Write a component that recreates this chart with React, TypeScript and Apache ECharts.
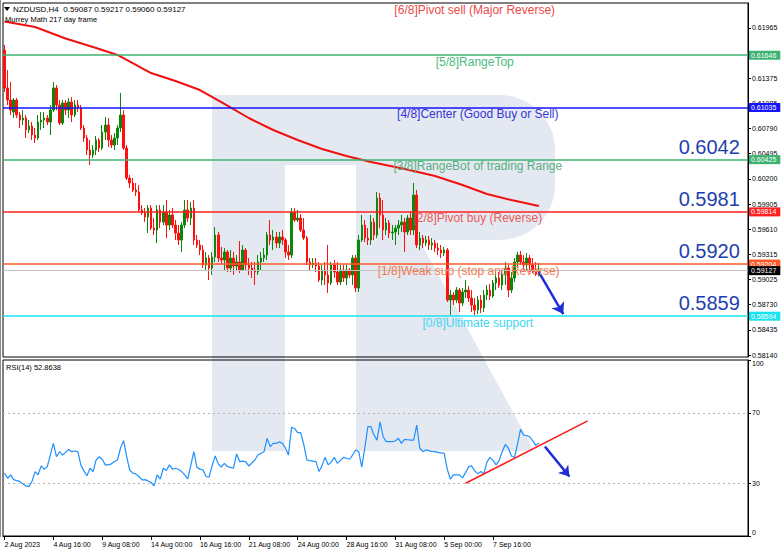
import React, { useEffect, useRef } from "react";
import * as echarts from "echarts";

// [open, close, low, high] per H4 bar
const candles: number[][] = [
  [0.61707, 0.61263, 0.61216, 0.61766], [0.61263, 0.61122, 0.61064, 0.61473], [0.61122, 0.61005, 0.60947, 0.61333], [0.60982, 0.61122, 0.60912, 0.61146],
  [0.61122, 0.60947, 0.60912, 0.61146], [0.60947, 0.60888, 0.60795, 0.60982], [0.60888, 0.60912, 0.6083, 0.61005], [0.60912, 0.60772, 0.60678, 0.60947],
  [0.60772, 0.60818, 0.60736, 0.60888], [0.60818, 0.60713, 0.60655, 0.60865], [0.60713, 0.60678, 0.60619, 0.60795], [0.60678, 0.60865, 0.60655, 0.60947],
  [0.60865, 0.60888, 0.60772, 0.60982], [0.60888, 0.60912, 0.60795, 0.60982], [0.60912, 0.60865, 0.6083, 0.60947], [0.60865, 0.61005, 0.60713, 0.61064],
  [0.61005, 0.61263, 0.60982, 0.61333], [0.61263, 0.61064, 0.61005, 0.61298], [0.61064, 0.60853, 0.6083, 0.61122], [0.60853, 0.61087, 0.6083, 0.61122],
  [0.61087, 0.61005, 0.60947, 0.61122], [0.61005, 0.61099, 0.60912, 0.61146], [0.61099, 0.60947, 0.60865, 0.61157], [0.60947, 0.61064, 0.60924, 0.61122],
  [0.61064, 0.61029, 0.60982, 0.61122], [0.61029, 0.60795, 0.60772, 0.61064], [0.60795, 0.60678, 0.60631, 0.6083], [0.60678, 0.60538, 0.60479, 0.60713],
  [0.60538, 0.60479, 0.60362, 0.60655], [0.60479, 0.60538, 0.60444, 0.60596], [0.60538, 0.60655, 0.60479, 0.60701], [0.60655, 0.60561, 0.60514, 0.60678],
  [0.60561, 0.60748, 0.60538, 0.6083], [0.60748, 0.6083, 0.60655, 0.60924], [0.6083, 0.60655, 0.60573, 0.60912], [0.60655, 0.60596, 0.60561, 0.60713],
  [0.60596, 0.60678, 0.60538, 0.60736], [0.60678, 0.60795, 0.60596, 0.6083], [0.60795, 0.60947, 0.60748, 0.61204], [0.60947, 0.60561, 0.60538, 0.61005],
  [0.60561, 0.6021, 0.60187, 0.60596], [0.6021, 0.60152, 0.60093, 0.60245], [0.60152, 0.6007, 0.60046, 0.6021], [0.6007, 0.60046, 0.6, 0.60152],
  [0.60046, 0.59836, 0.59812, 0.60128], [0.59836, 0.59801, 0.59778, 0.59894], [0.59801, 0.59754, 0.59695, 0.59859], [0.59754, 0.59859, 0.59567, 0.59894],
  [0.59859, 0.59625, 0.59602, 0.59894], [0.59625, 0.59602, 0.59544, 0.59742], [0.59602, 0.59836, 0.5945, 0.59894], [0.59836, 0.59695, 0.59625, 0.59894],
  [0.59695, 0.59812, 0.5966, 0.59894], [0.59812, 0.5966, 0.59508, 0.59953], [0.5966, 0.59778, 0.59602, 0.59836], [0.59778, 0.5966, 0.59625, 0.59859],
  [0.5966, 0.59567, 0.59485, 0.59719], [0.59567, 0.59485, 0.59427, 0.5966], [0.59485, 0.5966, 0.59345, 0.59695], [0.5966, 0.59836, 0.59625, 0.59953],
  [0.59836, 0.59742, 0.59695, 0.59953], [0.59742, 0.59859, 0.5966, 0.59929], [0.59859, 0.59485, 0.59427, 0.59953], [0.59485, 0.59427, 0.59391, 0.59544],
  [0.59427, 0.59368, 0.59309, 0.59485], [0.59368, 0.59193, 0.59157, 0.59427], [0.59193, 0.59274, 0.59134, 0.59345], [0.59274, 0.59157, 0.59017, 0.59309],
  [0.59157, 0.59286, 0.59076, 0.59345], [0.59286, 0.59544, 0.59228, 0.59637], [0.59544, 0.59274, 0.59228, 0.59579], [0.59274, 0.59251, 0.59193, 0.59403],
  [0.59251, 0.59345, 0.59134, 0.59391], [0.59345, 0.59157, 0.59111, 0.59368], [0.59157, 0.59274, 0.59111, 0.59368], [0.59274, 0.59181, 0.59076, 0.59345],
  [0.59181, 0.59228, 0.59134, 0.59309], [0.59228, 0.59134, 0.59099, 0.59473], [0.59134, 0.59368, 0.59134, 0.59427], [0.59368, 0.59193, 0.59134, 0.59391],
  [0.59193, 0.59157, 0.59076, 0.59274], [0.59157, 0.59134, 0.59041, 0.59228], [0.59134, 0.59111, 0.58958, 0.59228], [0.59111, 0.59228, 0.59076, 0.59309],
  [0.59228, 0.59274, 0.59134, 0.59345], [0.59274, 0.59309, 0.59228, 0.59391], [0.59309, 0.59544, 0.59251, 0.59579], [0.59544, 0.59485, 0.59427, 0.59719],
  [0.59485, 0.5952, 0.59368, 0.59602], [0.5952, 0.5945, 0.59391, 0.59579], [0.5945, 0.5952, 0.59391, 0.59579], [0.5952, 0.59485, 0.59427, 0.59602],
  [0.59485, 0.59345, 0.59274, 0.59508], [0.59345, 0.59309, 0.59251, 0.59427], [0.59309, 0.59812, 0.59274, 0.59859], [0.59812, 0.59719, 0.59695, 0.59859],
  [0.59719, 0.59742, 0.59695, 0.59836], [0.59742, 0.59602, 0.59579, 0.59789], [0.59602, 0.59508, 0.59485, 0.59742], [0.59508, 0.59228, 0.59193, 0.59532],
  [0.59228, 0.59193, 0.59134, 0.59274], [0.59193, 0.59216, 0.59157, 0.59274], [0.59216, 0.59181, 0.59111, 0.59274], [0.59181, 0.59017, 0.58994, 0.59228],
  [0.59017, 0.59134, 0.58958, 0.59193], [0.59134, 0.59076, 0.58958, 0.59228], [0.59076, 0.58982, 0.58865, 0.59427], [0.58982, 0.59193, 0.58958, 0.59228],
  [0.59193, 0.59111, 0.59041, 0.59251], [0.59111, 0.58994, 0.58958, 0.59228], [0.58994, 0.59134, 0.58958, 0.59193], [0.59134, 0.59041, 0.58994, 0.59193],
  [0.59041, 0.59134, 0.58958, 0.59193], [0.59134, 0.59076, 0.59041, 0.59157], [0.59076, 0.59274, 0.58958, 0.59309], [0.59274, 0.58924, 0.58877, 0.59309],
  [0.58924, 0.59485, 0.58877, 0.59544], [0.59485, 0.5966, 0.59462, 0.59778], [0.5966, 0.59508, 0.59462, 0.59719], [0.59508, 0.59485, 0.59427, 0.59625],
  [0.59485, 0.59695, 0.59427, 0.59778], [0.59695, 0.59544, 0.59485, 0.59742], [0.59544, 0.59976, 0.59508, 0.60046], [0.59976, 0.59778, 0.59625, 0.60035],
  [0.59778, 0.59602, 0.59485, 0.59953], [0.59602, 0.59684, 0.59544, 0.59742], [0.59684, 0.59567, 0.59508, 0.59719], [0.59567, 0.59579, 0.59485, 0.5966],
  [0.59579, 0.59625, 0.59427, 0.5966], [0.59625, 0.5966, 0.59544, 0.59719], [0.5966, 0.59695, 0.59579, 0.59778], [0.59695, 0.59579, 0.59345, 0.59742],
  [0.59579, 0.59742, 0.59544, 0.59778], [0.59742, 0.59602, 0.59544, 0.59812], [0.59602, 0.60011, 0.59544, 0.60152], [0.60011, 0.59427, 0.59391, 0.6007],
  [0.59427, 0.59508, 0.59368, 0.59579], [0.59508, 0.5945, 0.59391, 0.59544], [0.5945, 0.59485, 0.59415, 0.59532], [0.59485, 0.59427, 0.59368, 0.59532],
  [0.59427, 0.5945, 0.59368, 0.59508], [0.5945, 0.59391, 0.59345, 0.59485], [0.59391, 0.59368, 0.59309, 0.5945], [0.59368, 0.59333, 0.59274, 0.59427],
  [0.59333, 0.59368, 0.59298, 0.59403], [0.59368, 0.58783, 0.5876, 0.59391], [0.58783, 0.58842, 0.58608, 0.589], [0.58842, 0.58783, 0.58725, 0.58877],
  [0.58783, 0.589, 0.58748, 0.58935], [0.589, 0.58748, 0.58643, 0.58924], [0.58748, 0.58877, 0.58713, 0.58924], [0.58877, 0.589, 0.58807, 0.59017],
  [0.589, 0.58807, 0.5876, 0.58947], [0.58807, 0.58725, 0.58643, 0.589], [0.58725, 0.58666, 0.58608, 0.58807], [0.58666, 0.58783, 0.58619, 0.5883],
  [0.58783, 0.5869, 0.58631, 0.58842], [0.5869, 0.58842, 0.58643, 0.589], [0.58842, 0.589, 0.58783, 0.58958], [0.589, 0.5883, 0.58783, 0.5897],
  [0.5883, 0.58982, 0.58807, 0.59017], [0.58982, 0.59041, 0.589, 0.59111], [0.59041, 0.58958, 0.58924, 0.59111], [0.58958, 0.59076, 0.589, 0.59134],
  [0.59076, 0.59157, 0.58958, 0.59228], [0.59157, 0.589, 0.58818, 0.59193], [0.589, 0.59041, 0.58865, 0.59111], [0.59041, 0.59228, 0.58994, 0.59274],
  [0.59228, 0.59309, 0.59157, 0.59345], [0.59309, 0.59228, 0.59193, 0.59356], [0.59228, 0.59193, 0.59134, 0.59309], [0.59193, 0.59274, 0.59134, 0.59333],
  [0.59274, 0.59193, 0.59111, 0.59309], [0.59193, 0.59134, 0.59099, 0.59274], [0.59134, 0.59087, 0.59064, 0.59228], [0.59087, 0.59127, 0.5906, 0.59217],
];

// Moving average 217 (sampled) : [bar index, value]
const maPoints: number[][] = [
  [0, 0.62041], [10, 0.61976], [20, 0.61842], [30, 0.61731], [37, 0.61649], [48, 0.61438], [56, 0.61345], [64, 0.61239],
  [72, 0.61076], [80, 0.60912], [88, 0.60772], [96, 0.60655], [104, 0.60549], [112, 0.60467], [120, 0.60397], [128, 0.60339],
  [134, 0.60292], [141, 0.60233], [150, 0.60128], [158, 0.60023], [166, 0.59953], [175, 0.59883],
];

const rsiValues: number[] = [
  35.7, 32.8, 34.7, 32, 31.5, 31, 29.5, 28.5, 28.1, 31,
  36.6, 34.7, 39.8, 37.9, 39.4, 46, 52.6, 45.1, 47.9, 46,
  47.5, 49.2, 47.9, 48.3, 47.9, 40.4, 37, 34.2, 38.5, 36.6,
  43.2, 45, 43.6, 40.4, 40.4, 41, 42.3, 43.2, 50, 54.2,
  45.1, 37.5, 35.7, 35.3, 33.8, 31.9, 32, 31.3, 30.4, 28.5,
  34.7, 32.3, 38.5, 37.2, 40.4, 37.9, 38.5, 37.8, 36.6, 34.7,
  32.5, 40, 47.9, 39.1, 38, 37.5, 33.8, 33.4, 40, 45.5,
  41, 39.1, 41.3, 39.5, 39, 38.5, 46.6, 42.3, 42.5, 42.3,
  39.8, 41.5, 43.2, 46, 47, 47.9, 55.5, 50.8, 52.6, 52.6,
  53.6, 52.6, 50, 46, 61.7, 61.1, 58.7, 58.7, 52, 43.2,
  42.8, 42.5, 42.3, 36.6, 40, 44.7, 40.4, 42, 44.7, 41.3,
  43, 44.7, 44.2, 43.6, 46, 48.9, 47.9, 39.1, 50, 62.1,
  62.1, 57.4, 54.5, 64.9, 56.4, 53.6, 53.6, 53.6, 54, 55.5,
  52.6, 54.9, 54.7, 54.5, 54.5, 63, 50, 47.9, 48.9, 48.5,
  48, 47.9, 47.5, 47.2, 47, 38, 32.3, 34.7, 34.7, 34.7,
  33, 36, 39.4, 39.8, 37, 35.3, 36.6, 35.3, 42, 44.7,
  43, 40.4, 43, 47.9, 52, 50, 45.5, 44.7, 52, 60.6,
  57.4, 57, 56.4, 54, 51.5, 52.86,
];

const levelValues = [0.62256, 0.61646, 0.61035, 0.60425, 0.59814, 0.59204, 0.58594];
const levelNames = [
  "[6/8]Pivot sell (Major Reverse)",
  "[5/8]RangeTop",
  "[4/8]Center (Good Buy or Sell)",
  "[3/8]RangeBot of trading Range",
  "[2/8]Pivot buy (Reverse)",
  "[1/8]Weak sup (stop and Reverse)",
  "[0/8]Ultimate support",
];
const levelColors = ["#ff2020", "#3cb371", "#1414ff", "#3cb371", "#ff2020", "#ff5a28", "#19e3ef"];
const levelTextColors = ["#f04848", "#4cbb7f", "#3434d8", "#5aae80", "#ec5a5a", "#f27a50", "#3fd6f0"];
const bigLevelTexts = ["0.6042", "0.5981", "0.5920", "0.5859"];
const bigLevelValues = [0.60425, 0.59814, 0.59204, 0.58594];
const lastPrice = 0.59127;

const priceTicks = [0.61965, 0.61375, 0.61085, 0.6079, 0.60495, 0.602, 0.59905, 0.5961, 0.59315, 0.59025, 0.5873, 0.58435, 0.5814];
const rsiTicks = [0, 30, 70, 100];
const timeLabelBars = [0, 16, 32, 48, 64, 80, 96, 112, 128, 144, 160];
const timeLabels = [
  "2 Aug 2023", "4 Aug 16:00", "9 Aug 08:00", "14 Aug 00:00", "16 Aug 16:00", "21 Aug 08:00",
  "24 Aug 00:00", "28 Aug 16:00", "31 Aug 08:00", "5 Sep 00:00", "7 Sep 16:00",
];
const rsiTrendLine = [[151, 30], [191, 65.4]];
const rsiArrow = [[177, 50.8], [185, 33.8]];
const priceArrow = [[175, 0.59111], [183, 0.58619]];

const SLOTS = 244;
const FONT = '"Liberation Sans", Arial, sans-serif';

export default function App() {
  const ref = useRef<HTMLDivElement>(null);
  useEffect(() => {
    if (!ref.current) return;
    const chart = echarts.init(ref.current, null, { renderer: "svg" });
    const slots = Array.from({ length: SLOTS }, (_, i) => String(i));
    const labelMap: Record<number, string> = {};
    timeLabelBars.forEach((b, k) => (labelMap[b] = timeLabels[k]));
    const isLabelBar = (i: number) => labelMap[i] !== undefined;
    const logo = "#e4e9f1";
    const blue = "#1f2fd6";

    const levelLines: any[] = levelValues.slice(1).map((v, k) => ({
      yAxis: v,
      lineStyle: { color: levelColors[k + 1], width: 1.6, type: "solid" },
      label: {
        show: true, position: "end", distance: 1, formatter: v.toFixed(5),
        backgroundColor: levelColors[k + 1], color: "#fff", fontSize: 7, padding: [1, 4, 1, 2], fontFamily: FONT,
      },
    }));
    levelLines.push({
      yAxis: lastPrice,
      lineStyle: { color: "#c4c4c4", width: 1, type: "solid" },
      label: {
        show: true, position: "end", distance: 1, formatter: lastPrice.toFixed(5),
        backgroundColor: "#000", color: "#fff", fontSize: 7, padding: [1, 4, 1, 2], fontFamily: FONT,
      },
    });
    levelLines.push([
      { coord: priceArrow[0], symbol: "none", lineStyle: { color: blue, width: 2.5, type: "solid" }, label: { show: false } },
      { coord: priceArrow[1], symbol: "arrow", symbolSize: 11, lineStyle: { color: blue, width: 2.5, type: "solid" }, label: { show: false } },
    ]);

    const labelBar = [154, 154, 155, 155, 155, 152, 155];
    const markPoints: any[] = levelValues.map((v, k) => ({
      coord: [labelBar[k], v], symbol: "rect", symbolSize: 1, itemStyle: { color: "rgba(0,0,0,0)" },
      label: { show: true, position: "bottom", distance: 0, formatter: levelNames[k], color: levelTextColors[k], fontSize: 12, fontFamily: FONT },
    }));
    bigLevelValues.forEach((v, k) => {
      markPoints.push({
        coord: [241, v], symbol: "rect", symbolSize: 1, itemStyle: { color: "rgba(0,0,0,0)" },
        label: { show: true, position: "left", distance: 0, offset: [0, -13], formatter: bigLevelTexts[k], color: "#1e3fae", fontSize: 20, fontFamily: FONT },
      });
    });

    const option: any = {
      animation: false,
      textStyle: { fontFamily: FONT },
      grid: [
        { left: 3, right: 34, top: 3, height: 354, show: true, borderColor: "#000", borderWidth: 1, backgroundColor: "transparent" },
        { left: 3, right: 34, top: 360, height: 176, show: true, borderColor: "#000", borderWidth: 1, backgroundColor: "transparent" },
      ],
      xAxis: [
        { type: "category", gridIndex: 0, data: slots, boundaryGap: true, axisLine: { show: false }, axisTick: { show: false }, axisLabel: { show: false }, splitLine: { show: false } },
        {
          type: "category", gridIndex: 1, data: slots, boundaryGap: true,
          axisLine: { show: true, lineStyle: { color: "#000" } },
          axisTick: { show: true, alignWithLabel: true, interval: (i: number) => isLabelBar(i), length: 4, lineStyle: { color: "#000" } },
          axisLabel: {
            show: true, interval: (i: number) => isLabelBar(i), formatter: (_v: string, i: number) => labelMap[i] ?? "",
            align: "left", fontSize: 7, color: "#000", margin: 5, fontFamily: FONT,
          },
          splitLine: { show: false },
        },
      ],
      yAxis: [
        {
          type: "value", gridIndex: 0, position: "right", min: 0.58117, max: 0.62257, scale: true,
          splitLine: { show: false },
          axisLine: { show: true, lineStyle: { color: "#000" } },
          axisTick: { show: true, customValues: priceTicks, length: 3, lineStyle: { color: "#000" } },
          axisLabel: { show: true, customValues: priceTicks, formatter: (v: number) => v.toFixed(5), fontSize: 7, color: "#000", margin: 4, fontFamily: FONT },
        },
        {
          type: "value", gridIndex: 1, position: "right", min: 0, max: 100,
          splitLine: { show: false },
          axisLine: { show: true, lineStyle: { color: "#000" } },
          axisTick: { show: true, customValues: rsiTicks, length: 3, lineStyle: { color: "#000" } },
          axisLabel: {
            show: true, customValues: rsiTicks, formatter: (v: number) => String(v), fontSize: 7, color: "#000", margin: 4, fontFamily: FONT,
            verticalAlignMaxLabel: "top", verticalAlignMinLabel: "bottom",
          },
        },
      ],
      series: [
        {
          type: "candlestick", name: "NZDUSD", xAxisIndex: 0, yAxisIndex: 0, data: candles, barWidth: 2,
          itemStyle: { color: "#0b870b", color0: "#ff1010", borderColor: "#0b870b", borderColor0: "#ff1010", borderWidth: 1 },
          markPoint: { silent: true, animation: false, data: markPoints },
        },
        {
          type: "line", name: "MA217", xAxisIndex: 0, yAxisIndex: 0, data: maPoints, showSymbol: false, symbol: "none",
          lineStyle: { color: "#f01010", width: 2 }, z: 3,
          markLine: { silent: true, precision: 5, symbol: ["none", "none"], animation: false, data: levelLines },
        },
        {
          type: "line", name: "RSI(14)", xAxisIndex: 1, yAxisIndex: 1, data: rsiValues, showSymbol: false, symbol: "none",
          lineStyle: { color: "#1e90ff", width: 1.2 },
          markLine: {
            silent: true, precision: 3, symbol: ["none", "none"], animation: false, label: { show: false },
            data: [
              { yAxis: 70, lineStyle: { color: "#b4b4b4", type: [2, 3], width: 1 } },
              { yAxis: 30, lineStyle: { color: "#b4b4b4", type: [2, 3], width: 1 } },
              [
                { coord: rsiTrendLine[0], lineStyle: { color: "#ff1a1a", width: 1.6, type: "solid" } },
                { coord: rsiTrendLine[1], lineStyle: { color: "#ff1a1a", width: 1.6, type: "solid" } },
              ],
              [
                { coord: rsiArrow[0], symbol: "none", lineStyle: { color: blue, width: 2.5, type: "solid" } },
                { coord: rsiArrow[1], symbol: "arrow", symbolSize: 10, lineStyle: { color: blue, width: 2.5, type: "solid" } },
              ],
            ],
          },
        },
      ],
      graphic: [
        { type: "rect", z: -5, shape: { x: 212, y: 95, width: 73, height: 356 }, style: { fill: logo } },
        { type: "rect", z: -5, shape: { x: 212, y: 95, width: 290, height: 70 }, style: { fill: logo } },
        { type: "rect", z: -5, shape: { x: 356, y: 95, width: 199, height: 145, r: [0, 55, 55, 0] }, style: { fill: logo } },
        { type: "polygon", z: -5, shape: { points: [[356, 230], [414, 230], [534, 451], [356, 451]] }, style: { fill: logo } },
        { type: "line", z: 5, shape: { x1: 0.5, y1: 0, x2: 0.5, y2: 537 }, style: { stroke: "#8a8a8a", lineWidth: 1 } },
        { type: "polygon", z: 5, shape: { points: [[4, 7], [10, 7], [7, 11]] }, style: { fill: "#000" } },
        { type: "text", z: 5, x: 13, y: 9, style: { text: "NZDUSD,H4  0.59087 0.59217 0.59060 0.59127", fill: "#000", font: `8px ${FONT}`, verticalAlign: "middle", align: "left" } },
        { type: "text", z: 5, x: 5, y: 19, style: { text: "Murrey Math 217 day frame", fill: "#000", font: `7.5px ${FONT}`, verticalAlign: "middle", align: "left" } },
        { type: "text", z: 5, x: 6, y: 367, style: { text: "RSI(14) 52.8638", fill: "#000", font: `7.5px ${FONT}`, verticalAlign: "middle", align: "left" } },
      ],
    };
    chart.setOption(option);
    return () => chart.dispose();
  }, []);
  return <div ref={ref} style={{ position: "fixed", left: 0, top: 0, width: 782, height: 552, background: "#fff" }} />;
}
